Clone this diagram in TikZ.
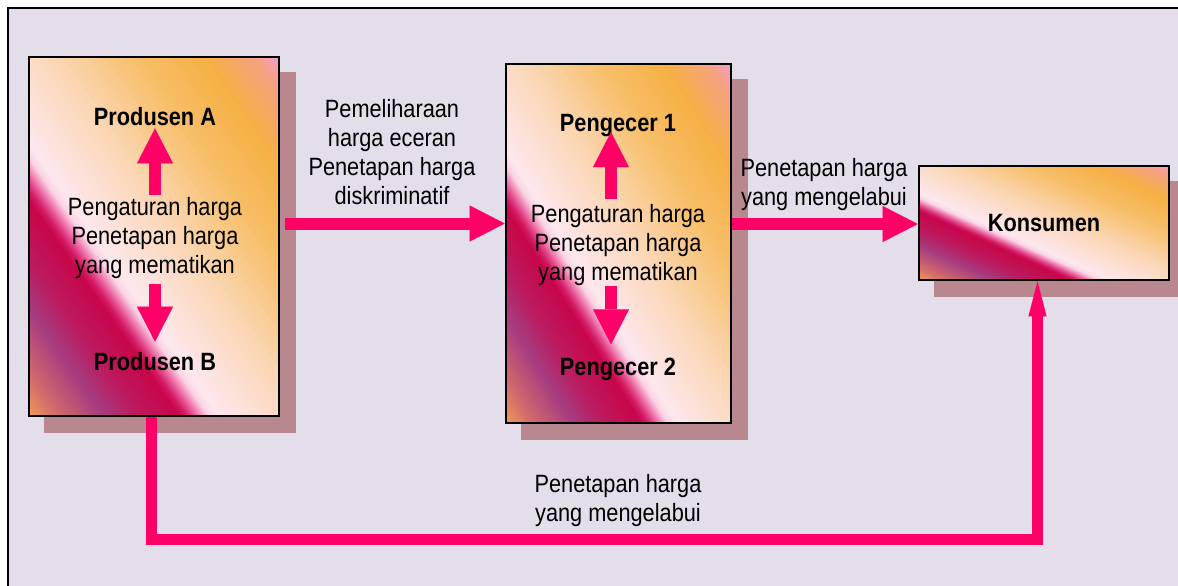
\documentclass[tikz,border=0pt]{standalone}
\usepackage{fontspec}
\setmainfont[FakeStretch=0.87]{Liberation Sans}
\usetikzlibrary{arrows.meta}
\definecolor{bgc}{HTML}{E4DEEA}
\definecolor{shc}{HTML}{B9878E}
\definecolor{pk}{HTML}{FF0066}
\definecolor{fa}{HTML}{EE9C55}
\definecolor{fb}{HTML}{D26A6C}
\definecolor{fc}{HTML}{A63C80}
\definecolor{fd}{HTML}{BC1A5E}
\definecolor{fe}{HTML}{C8064A}
\definecolor{ff}{HTML}{D41C66}
\definecolor{fg}{HTML}{E65090}
\definecolor{fh}{HTML}{F490BE}
\definecolor{fi}{HTML}{FBD4E4}
\definecolor{fj}{HTML}{FDE8EF}
\definecolor{fk}{HTML}{FBD6B4}
\definecolor{fl}{HTML}{F7BE66}
\definecolor{fm}{HTML}{F6B045}
\definecolor{fn}{HTML}{F5A27F}
\definecolor{fo}{HTML}{F59DC8}
\newcommand\firestrips{%
  \foreach \ta/\ca/\tb/\cb in {0/fa/0.06/fb, 0.06/fb/0.15/fc, 0.15/fc/0.22/fd, 0.22/fd/0.30/fe,
      0.30/fe/0.315/ff, 0.315/ff/0.33/fg, 0.33/fg/0.345/fh, 0.345/fh/0.36/fi, 0.36/fi/0.38/fj,
      0.38/fj/0.55/fk, 0.55/fk/0.72/fl, 0.72/fl/0.85/fm, 0.85/fm/0.95/fn, 0.95/fn/1.0/fo}{%
    \foreach \k in {0,...,9}{%
      \pgfmathsetmacro\tl{\ta+(\tb-\ta)*\k/10}%
      \pgfmathsetmacro\tr{\ta+(\tb-\ta)*(\k+1)/10+0.004}%
      \pgfmathsetmacro\pc{100*(\k+0.5)/10}%
      \fill[\cb!\pc!\ca] ({2*\tl+1},-1) -- ({2*\tr+1},-1) -- ({2*\tr-2},2) -- ({2*\tl-2},2) -- cycle;
    }%
  }%
}
% #1 name, #2 left x, #3 top y, #4 width, #5 height, #6 text
\newcommand\firebox[6]{%
  \fill[shc] (#2-1.3+16,#3-1.3+16) rectangle ++(#4+2.6,#5+2.6);
  \begin{scope}
    \clip (#2,#3) rectangle ++(#4,#5);
    \begin{scope}[shift={(#2,#3+#5)}, xscale=#4, yscale=-#5]
      \firestrips
    \end{scope}
  \end{scope}
  \node[boxframe, minimum width=#4 pt, minimum height=#5 pt] (#1) at (#2+#4/2,#3+#5/2) {#6};
}
\begin{document}
\begin{tikzpicture}[x=1pt,y=-1pt,
  boxframe/.style={draw=black, line width=2.6pt, inner sep=0pt, font=\fontsize{25}{29}\selectfont\bfseries, text=black},
  lbl/.style={font=\fontsize{25}{29}\selectfont\bfseries, inner sep=0pt, anchor=base, text=black},
  txt/.style={font=\fontsize{25}{29}\selectfont, align=center, inner sep=0pt, anchor=north, text=black},
  bigarrow/.style={draw=pk, line width=12pt, -{Triangle[length=35pt,width=36pt,line width=0.01pt]}},
  thinarrow/.style={draw=pk, line width=11pt, line join=miter, -{Triangle[length=35pt,width=18pt,line width=0.01pt]}}]
\useasboundingbox (0,0) rectangle (1178,586);
\fill[white] (0,0) rectangle (1178,586);
\fill[bgc] (8,8) rectangle (1178,586);
\draw[line width=2pt] (8,586) -- (8,8) -- (1178,8);

% boxes
\firebox{A}{29}{57}{250}{359}{}
\firebox{P}{506}{64}{225}{359}{}
\firebox{K}{919}{166}{250}{114}{Konsumen}

% texts in A
\node[lbl] (pa) at (155,125) {Produsen A};
\node[txt] (midA) at (155,197.1) {Pengaturan harga\\Penetapan harga\\yang mematikan};
\node[lbl] (pb) at (155,370) {Produsen B};

% texts in P
\node[lbl] (p1) at (618,131) {Pengecer 1};
\node[txt] (midP) at (618,204) {Pengaturan harga\\Penetapan harga\\yang mematikan};
\node[lbl] (p2) at (618,375) {Pengecer 2};

% free texts
\node[txt] (t1) at (392,99.1) {Pemeliharaan\\harga eceran\\Penetapan harga\\diskriminatif};
\node[txt] (t2) at (824,158.1) {Penetapan harga\\yang mengelabui};
\node[txt] (t3) at (618,474.1) {Penetapan harga\\yang mengelabui};

% arrows inside boxes
\draw[bigarrow] ([yshift=2pt]midA.north) -- ([yshift=-3pt]pa.south);
\draw[bigarrow] ([yshift=-4.7pt]midA.south) -- ([yshift=10pt]pb.north);
\draw[bigarrow] ([xshift=-7pt,yshift=5pt]midP.north) -- ([xshift=-7pt,yshift=4.3pt]p1.south);
\draw[bigarrow] ([xshift=-7pt,yshift=-0.7pt]midP.south) -- ([xshift=-7pt,yshift=13pt]p2.north);

% arrows between boxes
\draw[bigarrow] ([xshift=4.7pt,yshift=13pt]A.east) -- ([yshift=20pt]P.west);
\draw[bigarrow] ([yshift=19.5pt]P.east) -- ([yshift=-1pt]K.west);
\coordinate (bl) at (0,539);
\draw[thinarrow] ([xshift=-3pt]A.south) -- ([xshift=-3pt]A.south |- bl) -| ([xshift=-6.5pt]K.south);
\end{tikzpicture}
\end{document}
